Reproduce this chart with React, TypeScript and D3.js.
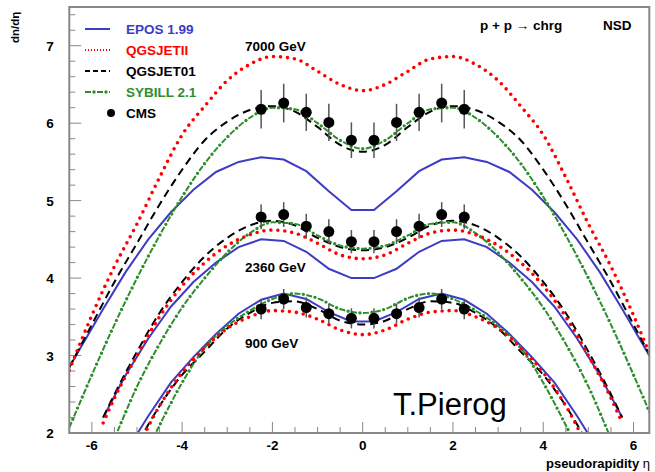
import React from 'react';
import * as d3 from 'd3';

// model curves
const ETA_7000 = [-6.5, -6, -5.5, -5, -4.5, -4, -3.5, -3, -2.5, -2, -1.5, -1, -0.5, 0, 0.5, 1, 1.5, 2, 2.5, 3, 3.5, 4, 4.5, 5, 5.5, 6, 6.5];
const QGSJETII_7000 = [2.81, 3.52, 4.15, 4.7, 5.3, 5.85, 6.22, 6.55, 6.76, 6.86, 6.83, 6.67, 6.5, 6.42, 6.5, 6.67, 6.83, 6.86, 6.76, 6.55, 6.22, 5.85, 5.3, 4.7, 4.15, 3.52, 2.81];
const QGSJET01_7000 = [2.85, 3.4, 3.95, 4.45, 4.95, 5.4, 5.78, 6.02, 6.17, 6.22, 6.15, 5.95, 5.72, 5.63, 5.72, 5.95, 6.15, 6.22, 6.17, 6.02, 5.78, 5.4, 4.95, 4.45, 3.95, 3.4, 2.85];
const SYBILL_7000 = [2.07, 2.75, 3.4, 4.0, 4.55, 5.05, 5.48, 5.82, 6.07, 6.2, 6.18, 6.0, 5.78, 5.67, 5.78, 6.0, 6.18, 6.2, 6.07, 5.82, 5.48, 5.05, 4.55, 4.0, 3.4, 2.75, 2.07];
// EPOS is drawn through its bin centres
const ETA_EPOS_7000 = [-6.75, -6.25, -5.75, -5.25, -4.75, -4.25, -3.75, -3.25, -2.75, -2.25, -1.75, -1.25, -0.75, -0.25, 0.25, 0.75, 1.25, 1.75, 2.25, 2.75, 3.25, 3.75, 4.25, 4.75, 5.25, 5.75, 6.25, 6.75];
const EPOS_7000 = [2.6, 3.1, 3.6, 4.08, 4.5, 4.85, 5.14, 5.37, 5.5, 5.56, 5.53, 5.38, 5.12, 4.88, 4.88, 5.12, 5.38, 5.53, 5.56, 5.5, 5.37, 5.14, 4.85, 4.5, 4.08, 3.6, 3.1, 2.6];

const ETA_2360 = [-5.75, -5.5, -5, -4.5, -4, -3.5, -3, -2.5, -2, -1.5, -1, -0.5, 0, 0.5, 1, 1.5, 2, 2.5, 3, 3.5, 4, 4.5, 5, 5.5, 5.75];
const QGSJETII_2360 = [2.13, 2.45, 3.0, 3.5, 3.9, 4.2, 4.42, 4.56, 4.62, 4.58, 4.45, 4.3, 4.25, 4.3, 4.45, 4.58, 4.62, 4.56, 4.42, 4.2, 3.9, 3.5, 3.0, 2.45, 2.13];
const QGSJET01_2360 = [2.2, 2.5, 3.05, 3.55, 3.95, 4.28, 4.52, 4.68, 4.74, 4.68, 4.52, 4.4, 4.36, 4.4, 4.52, 4.68, 4.74, 4.68, 4.52, 4.28, 3.95, 3.55, 3.05, 2.5, 2.2];
const SYBILL_2360 = [1.6, 1.93, 2.6, 3.15, 3.62, 4.0, 4.33, 4.58, 4.72, 4.7, 4.55, 4.42, 4.38, 4.42, 4.55, 4.7, 4.72, 4.58, 4.33, 4.0, 3.62, 3.15, 2.6, 1.93, 1.6];
const ETA_EPOS_2360 = [-5.75, -5.25, -4.75, -4.25, -3.75, -3.25, -2.75, -2.25, -1.75, -1.25, -0.75, -0.25, 0.25, 0.75, 1.25, 1.75, 2.25, 2.75, 3.25, 3.75, 4.25, 4.75, 5.25, 5.75];
const EPOS_2360 = [2.2, 2.75, 3.22, 3.63, 3.95, 4.2, 4.4, 4.5, 4.48, 4.34, 4.12, 4.0, 4.0, 4.12, 4.34, 4.48, 4.5, 4.4, 4.2, 3.95, 3.63, 3.22, 2.75, 2.2];

const ETA_900 = [-5.5, -5, -4.5, -4, -3.5, -3, -2.5, -2, -1.5, -1, -0.5, 0, 0.5, 1, 1.5, 2, 2.5, 3, 3.5, 4, 4.5, 5, 5.5];
const QGSJETII_900 = [1.25, 1.8, 2.35, 2.78, 3.1, 3.35, 3.5, 3.58, 3.56, 3.47, 3.33, 3.27, 3.33, 3.47, 3.56, 3.58, 3.5, 3.35, 3.1, 2.78, 2.35, 1.8, 1.25];
const QGSJET01_900 = [1.3, 1.85, 2.35, 2.75, 3.05, 3.35, 3.55, 3.68, 3.7, 3.6, 3.45, 3.4, 3.45, 3.6, 3.7, 3.68, 3.55, 3.35, 3.05, 2.75, 2.35, 1.85, 1.3];
const SYBILL_900 = [0.9, 1.5, 2.1, 2.65, 3.1, 3.38, 3.58, 3.73, 3.8, 3.74, 3.6, 3.55, 3.6, 3.74, 3.8, 3.73, 3.58, 3.38, 3.1, 2.65, 2.1, 1.5, 0.9];
const ETA_EPOS_900 = [-5.75, -5.25, -4.75, -4.25, -3.75, -3.25, -2.75, -2.25, -1.75, -1.25, -0.75, -0.25, 0.25, 0.75, 1.25, 1.75, 2.25, 2.75, 3.25, 3.75, 4.25, 4.75, 5.25, 5.75];
const EPOS_900 = [1.25, 1.75, 2.22, 2.65, 2.98, 3.28, 3.54, 3.72, 3.8, 3.73, 3.56, 3.44, 3.44, 3.56, 3.73, 3.8, 3.72, 3.54, 3.28, 2.98, 2.65, 2.22, 1.75, 1.25];

// CMS NSD data
const CMS_ETA = [-2.25, -1.75, -1.25, -0.75, -0.25, 0.25, 0.75, 1.25, 1.75, 2.25];
const CMS_7000 = [6.18, 6.26, 6.14, 6.01, 5.78, 5.78, 6.01, 6.14, 6.26, 6.18];
const CMS_7000_ERR = [0.25, 0.25, 0.24, 0.24, 0.23, 0.23, 0.24, 0.24, 0.25, 0.25];
const CMS_2360 = [4.79, 4.82, 4.67, 4.6, 4.47, 4.47, 4.6, 4.67, 4.82, 4.79];
const CMS_2360_ERR = [0.16, 0.16, 0.16, 0.16, 0.15, 0.15, 0.16, 0.16, 0.16, 0.16];
const CMS_900 = [3.6, 3.73, 3.62, 3.54, 3.48, 3.48, 3.54, 3.62, 3.73, 3.6];
const CMS_900_ERR = [0.13, 0.13, 0.13, 0.13, 0.13, 0.13, 0.13, 0.13, 0.13, 0.13];

const X_MAJOR = [-6, -4, -2, 0, 2, 4, 6];
const Y_MAJOR = [2, 3, 4, 5, 6, 7];
const LEGEND = ['EPOS 1.99', 'QGSJETII', 'QGSJET01', 'SYBILL 2.1', 'CMS'];
const ENERGIES = ['7000 GeV', '2360 GeV', '900 GeV'];

const BLUE = '#3c3cc4';
const RED = '#ff0000';
const GREEN = '#2e8e2e';
const FONT = '"Liberation Sans", Arial, Helvetica, sans-serif';

const W = 655;
const H = 472;

const App = () => {
  const x = d3.scaleLinear().domain([-6.5, 6.35]).range([69.3, 649.3]);
  const y = d3.scaleLinear().domain([2, 7.5]).range([433, 7]);
  const [x0, x1] = x.range();
  const [y0, y1] = y.range();

  const line = (etas: number[], vals: number[], curve = d3.curveMonotoneX) =>
    d3.line<number>()
      .x((d, i) => x(etas[i]))
      .y(d => y(d))
      .curve(curve)(vals) || '';

  const sets = [
    {eta: ETA_7000, etaE: ETA_EPOS_7000, epos: EPOS_7000, q2: QGSJETII_7000, q1: QGSJET01_7000, sib: SYBILL_7000},
    {eta: ETA_2360, etaE: ETA_EPOS_2360, epos: EPOS_2360, q2: QGSJETII_2360, q1: QGSJET01_2360, sib: SYBILL_2360},
    {eta: ETA_900, etaE: ETA_EPOS_900, epos: EPOS_900, q2: QGSJETII_900, q1: QGSJET01_900, sib: SYBILL_900},
  ];
  const cms = [
    {v: CMS_7000, e: CMS_7000_ERR},
    {v: CMS_2360, e: CMS_2360_ERR},
    {v: CMS_900, e: CMS_900_ERR},
  ];

  const xMinor = d3.range(-6.5, 6.36, 0.5);
  const yMinor = d3.range(2, 7.5, 0.2);

  const sybill = (d: string, key: string) => (
    <g key={key}>
      <path d={d} fill="none" stroke={GREEN} strokeWidth={2} strokeDasharray="6 6" />
      <path d={d} fill="none" stroke={GREEN} strokeWidth={3.4} strokeDasharray="0 12"
        strokeDashoffset={-9} strokeLinecap="round" />
    </g>
  );
  const qgsII = (d: string, key: string) => (
    <path key={key} d={d} fill="none" stroke={RED} strokeWidth={3.6}
      strokeDasharray="0 7" strokeLinecap="round" />
  );
  const qgs01 = (d: string, key: string) => (
    <path key={key} d={d} fill="none" stroke="#000" strokeWidth={2} strokeDasharray="8 5" />
  );
  const epos = (d: string, key: string) => (
    <path key={key} d={d} fill="none" stroke={BLUE} strokeWidth={2} />
  );

  const legendY = [29, 50, 71, 92, 113];
  const legendColor = [BLUE, RED, '#000', GREEN, '#000'];
  const seg = (yy: number) => `M85,${yy}L110,${yy}`;

  return (
    <svg width={W} height={H} style={{position: 'absolute', left: 0, top: 0, background: '#fff'}}
      fontFamily={FONT}>
      <defs>
        <clipPath id="plot">
          <rect x={x0} y={y1} width={x1 - x0} height={y0 - y1} />
        </clipPath>
      </defs>
      <rect width={W} height={H} fill="#fff" />

      {/* ticks */}
      <g stroke="#888" strokeWidth={1}>
        {xMinor.map(t => (
          <line key={'xm' + t} x1={x(t)} x2={x(t)} y1={y0}
            y2={y0 - (X_MAJOR.includes(Math.round(t * 10) / 10) ? 11 : 6)} />
        ))}
        {yMinor.map(t => {
          const major = Math.abs(t - Math.round(t)) < 1e-6;
          return <line key={'ym' + t} x1={x0} x2={x0 + (major ? 12 : 6)} y1={y(t)} y2={y(t)} />;
        })}
      </g>

      {/* curves */}
      <g clipPath="url(#plot)">
        {sets.map((s, i) => epos(line(s.etaE, s.epos, d3.curveLinear), 'e' + i))}
        {sets.map((s, i) => qgs01(line(s.eta, s.q1), 'q1' + i))}
        {sets.map((s, i) => sybill(line(s.eta, s.sib), 's' + i))}
        {sets.map((s, i) => qgsII(line(s.eta, s.q2), 'q2' + i))}
      </g>

      {/* CMS points */}
      {cms.map((c, k) => (
        <g key={'c' + k}>
          {c.v.map((v, i) => (
            <line key={'b' + i} x1={x(CMS_ETA[i])} x2={x(CMS_ETA[i])}
              y1={y(v - c.e[i])} y2={y(v + c.e[i])} stroke="#555" strokeWidth={1.5} />
          ))}
          {c.v.map((v, i) => (
            <circle key={'p' + i} cx={x(CMS_ETA[i])} cy={y(v)} r={5.5} fill="#000" />
          ))}
        </g>
      ))}

      {/* frame */}
      <rect x={x0} y={y1} width={x1 - x0} height={y0 - y1} fill="none" stroke="#888" strokeWidth={2} />

      {/* tick labels */}
      <g fontWeight="bold" fontSize={13.5} fill="#000">
        {X_MAJOR.map(t => (
          <text key={'xl' + t} x={x(t)} y={450} textAnchor="middle">{t}</text>
        ))}
        {Y_MAJOR.map(t => (
          <text key={'yl' + t} x={50} y={y(t) + 5} textAnchor="middle">{t}</text>
        ))}
      </g>

      {/* axis titles */}
      <text x={650} y={468} textAnchor="end" fontSize={13} fontWeight="bold">
        pseudorapidity <tspan fontWeight="normal">η</tspan>
      </text>
      <text transform="translate(19,43) rotate(-90)" textAnchor="start" fontSize={11.5} fontWeight="bold">
        dn/dη
      </text>

      {/* header */}
      <text x={480} y={30} fontSize={13.5} fontWeight="bold">p + p <tspan fontWeight="normal">→</tspan> chrg</text>
      <text x={603} y={30} fontSize={13.5} fontWeight="bold">NSD</text>

      {/* energy labels */}
      <g fontSize={13.5} fontWeight="bold">
        <text x={245} y={51}>{ENERGIES[0]}</text>
        <text x={245} y={272}>{ENERGIES[1]}</text>
        <text x={245} y={348}>{ENERGIES[2]}</text>
      </g>

      {/* legend */}
      <path d={seg(legendY[0])} stroke={BLUE} strokeWidth={2} fill="none" />
      <path d={seg(legendY[1])} stroke={RED} strokeWidth={2} strokeDasharray="1 2" fill="none" />
      <path d={seg(legendY[2])} stroke="#000" strokeWidth={2} strokeDasharray="5 3" fill="none" />
      {sybill(seg(legendY[3]), 'ls')}
      <circle cx={111} cy={legendY[4]} r={4} fill="#000" />
      <g fontSize={13.5} fontWeight="bold">
        {LEGEND.map((t, i) => (
          <text key={t} x={126} y={legendY[i] + 5} fill={legendColor[i]}>{t}</text>
        ))}
      </g>

      <text x={393} y={415} fontSize={31}>T.Pierog</text>
    </svg>
  );
};

export default App;
